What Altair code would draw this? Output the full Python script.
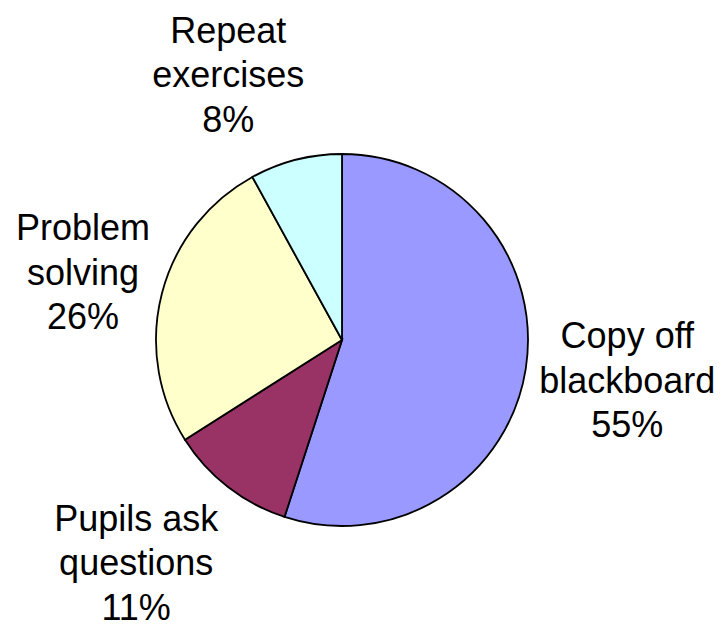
import math
import altair as alt
import pandas as pd

# ---- data ----
categories = ["Copy off\nblackboard", "Pupils ask\nquestions", "Problem\nsolving", "Repeat\nexercises"]
values = [55, 11, 26, 8]
colors = ["#9999FF", "#993366", "#FFFFCC", "#CCFFFF"]

total = sum(values)
df = pd.DataFrame({
    "idx": list(range(len(categories))),
    "category": categories,
    "value": values,
    "label": [f"{c}\n{v}%" for c, v in zip(categories, values)],
})

theta_scale = alt.Scale(domain=[0, total], range=[0, 2 * math.pi])
center_x = alt.value(334)
center_y = alt.value(332)

base = alt.Chart(df)

pie = base.mark_arc(radius=186, stroke="black", strokeWidth=1.8).encode(
    theta=alt.Theta("value:Q", stack=True, scale=theta_scale),
    color=alt.Color("category:N", sort=categories,
                    scale=alt.Scale(domain=categories, range=colors), legend=None),
    order=alt.Order("idx:Q"),
    x=center_x,
    y=center_y,
)

# label nudges (pixels) relative to the slice mid-angle anchor
offsets = {
    0: (68, -26),
    1: (-71, 17),
    2: (-46, -45),
    3: (-59, -84),
}

layers = [pie]
for i, (ddx, ddy) in offsets.items():
    txt = base.transform_window(
        cum="sum(value)", sort=[alt.SortField("idx")]
    ).transform_calculate(
        mid="datum.cum - datum.value / 2"
    ).transform_filter(
        alt.datum.idx == i
    ).mark_text(
        radius=220, dx=ddx, dy=ddy, align="center", baseline="alphabetic",
        lineBreak="\n", lineHeight=44.5, fontSize=36, font="Liberation Sans",
        color="black",
    ).encode(
        theta=alt.Theta("mid:Q", stack=None, scale=theta_scale),
        text="label:N",
        x=center_x,
        y=center_y,
    )
    layers.append(txt)

chart = alt.layer(*layers).properties(
    width=708, height=623, padding=0, autosize=alt.AutoSizeParams(type="none")
).configure_view(stroke=None)

chart.save("out.html", embed_options={"renderer": "svg", "actions": False})
